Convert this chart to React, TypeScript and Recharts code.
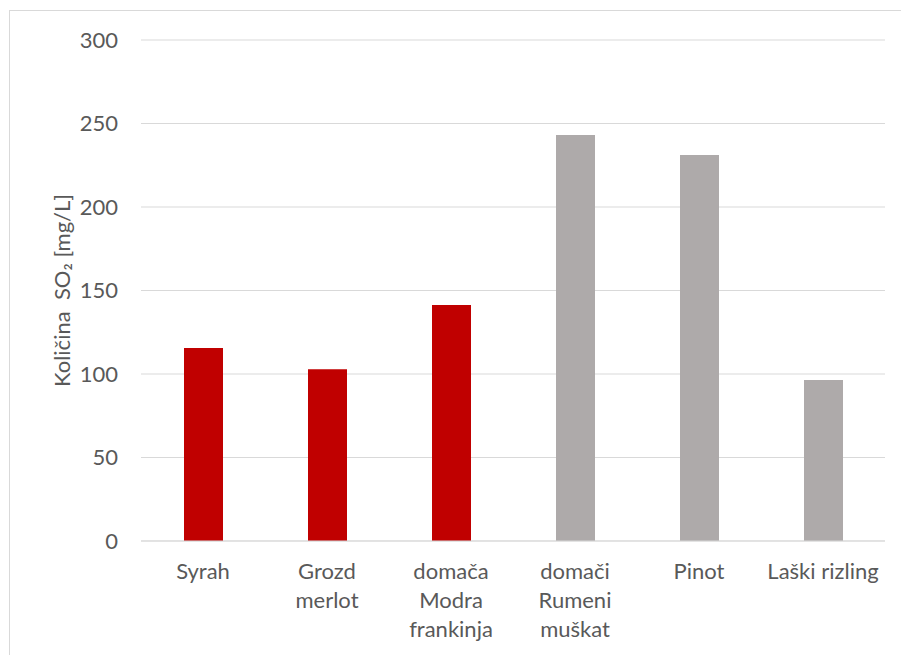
import { BarChart, Bar, XAxis, YAxis, CartesianGrid, Cell, Label } from "recharts";

// Sulphur dioxide content per wine sample
const wines = ["Syrah", "Grozd\nmerlot", "domača\nModra\nfrankinja", "domači\nRumeni\nmuškat", "Pinot", "Laški rizling"];
const so2 = [115.6, 102.8, 141.3, 243.1, 231.1, 96.4];
const wineType = ["red", "red", "red", "white", "white", "white"];
const yTicks = [0, 50, 100, 150, 200, 250, 300];

const TYPE_COLOR: Record<string, string> = { red: "#C00000", white: "#AEAAAA" };
const TEXT = "#595959";
const GRID = "#D9D9D9";
const FONT = "Lato, 'Open Sans', sans-serif";
const FS = 22;

const data = wines.map((name, i) => ({ name, so2: so2[i], type: wineType[i] }));

function WineTick(props: any) {
  const { x, y, payload } = props;
  const lines = String(payload.value).split("\n");
  return (
    <text x={x} y={y} textAnchor="middle" fill={TEXT} fontSize={FS} fontFamily={FONT}>
      {lines.map((ln, i) => (
        <tspan key={i} x={x} dy={i === 0 ? 38 : 29}>
          {ln}
        </tspan>
      ))}
    </text>
  );
}

function YTitle(props: any) {
  const vb = props.viewBox || { x: 0, y: 0, height: 0 };
  const cx = 61;
  const cy = vb.y + vb.height / 2;
  return (
    <text
      x={cx}
      y={cy}
      transform={`rotate(-90, ${cx}, ${cy})`}
      textAnchor="middle"
      dominantBaseline="central"
      fill={TEXT}
      fontSize={FS}
      fontFamily={FONT}
      style={{ whiteSpace: "pre" }}
    >
      {"Količina  SO₂ [mg/L]"}
    </text>
  );
}

export default function App() {
  return (
    <div style={{ position: "fixed", left: 0, top: 0, width: 901, height: 655, overflow: "hidden", background: "#fff" }}>
      <div
        style={{
          position: "absolute",
          left: 9,
          top: 10,
          width: 1000,
          height: 1000,
          border: `1px solid ${GRID}`,
          boxSizing: "border-box",
        }}
      />
      <div style={{ position: "absolute", left: 0, top: 0 }}>
        <BarChart width={901} height={655} data={data} margin={{ top: 40, right: 16, bottom: 0, left: 0 }} barSize={39}>
          <CartesianGrid vertical={false} stroke={GRID} strokeWidth={1} />
          <XAxis
            dataKey="name"
            height={114}
            interval={0}
            tickLine={false}
            tickSize={0}
            tickMargin={0}
            axisLine={{ stroke: GRID }}
            tick={<WineTick />}
          />
          <YAxis
            width={141}
            domain={[0, 300]}
            ticks={yTicks}
            axisLine={false}
            tickLine={false}
            tickSize={0}
            tickMargin={23}
            tick={{ fill: TEXT, fontSize: FS, fontFamily: FONT }}
          >
            <Label content={<YTitle />} />
          </YAxis>
          <Bar dataKey="so2" isAnimationActive={false}>
            {data.map((d) => (
              <Cell key={d.name} fill={TYPE_COLOR[d.type]} />
            ))}
          </Bar>
        </BarChart>
      </div>
    </div>
  );
}
